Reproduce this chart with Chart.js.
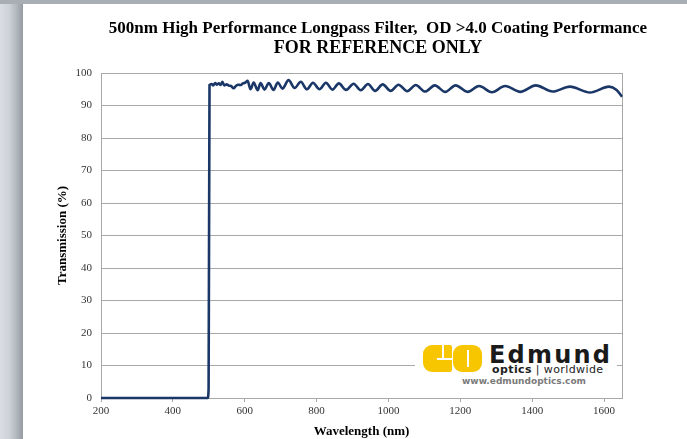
<!DOCTYPE html>
<html>
<head>
<meta charset="utf-8">
<script src="https://cdn.jsdelivr.net/npm/chart.js@4.4.1/dist/chart.umd.min.js"></script>
<style>
  html, body { margin: 0; padding: 0; }
  body { width: 687px; height: 439px; position: relative; overflow: hidden; background: #fff; }
  #sideBar { position: absolute; left: 0; top: 0; width: 23px; height: 439px;
    background: linear-gradient(to right, #dadee3 0, #cdd2d8 9px, #b4b9bf 16px, #969ba2 23px); }
  #topBar { position: absolute; left: 0; top: 0; width: 687px; height: 4px; background: #a9aeb4; }
  #chartBox { position: absolute; left: 0; top: 0; width: 687px; height: 439px; }
  .title { position: absolute; left: 78px; width: 600px; text-align: center; white-space: nowrap;
    font-family: "Liberation Serif", "Times New Roman", serif; font-weight: bold; color: #000; }
  #title1 { top: 18px; font-size: 17px; line-height: 20px; }
  #title2 { top: 37px; font-size: 18px; line-height: 21px; }
  #logo { position: absolute; left: 415px; top: 337px; width: 202px; height: 57px; background: #fff; }
  #logo div { position: absolute; }
  .blk { background: #f7c600; top: 8px; height: 27px; }
  #eBlk { left: 8px; width: 29px; border-radius: 9px 2px 2px 9px; }
  #oBlk { left: 38px; width: 29px; border-radius: 9px; }
  .slot { background: #fff; }
  #brand { left: 74px; top: 6px; font: bold 24px/24px "DejaVu Sans", sans-serif; color: #1a1a1a; letter-spacing: 2.2px; }
  #tag { left: 77px; top: 27px; font: 11px/11px "DejaVu Sans", sans-serif; color: #222; letter-spacing: 0.4px; white-space: nowrap; }
  #url { left: 47px; top: 40px; font: bold 9px/9px "DejaVu Sans", sans-serif; color: #7a7a7a; white-space: nowrap; }
</style>
</head>
<body>
<div id="sideBar"></div>
<div id="topBar"></div>
<div id="chartBox"><canvas id="filterChart"></canvas></div>
<div class="title" id="title1">500nm High Performance Longpass Filter,&nbsp; OD &gt;4.0 Coating Performance</div>
<div class="title" id="title2">FOR REFERENCE ONLY</div>
<div id="logo">
  <div class="blk" id="eBlk"></div>
  <div class="blk" id="oBlk"></div>
  <div class="slot" style="left:22px;top:21px;width:15px;height:1.5px"></div>
  <div class="slot" style="left:27px;top:8px;width:1.5px;height:13px"></div>
  <div class="slot" style="left:52px;top:13px;width:1.5px;height:17px"></div>
  <div id="brand">Edmund</div>
  <div id="tag"><b>optics</b> | worldwide</div>
  <div id="url">www.edmundoptics.com</div>
</div>
<script>
const wavelengthNm = [200, 300, 400, 497, 499.5, 502, 508, 512, 518, 522, 528, 533, 538, 543, 550,
  556, 562, 569, 576, 582, 588, 595, 601, 608, 616, 625, 636, 644, 655, 667, 680, 692, 705, 722,
  739, 756, 773, 790, 808, 826, 844, 862, 882, 903, 923, 943, 963, 984, 1006, 1028, 1052, 1076,
  1102, 1129, 1158, 1187, 1220, 1252, 1288, 1325, 1367, 1410, 1457, 1505, 1561, 1614, 1635, 1650];
const transmission = [0, 0, 0, 0, 3, 96.3, 96.6, 96.2, 96.9, 96.4, 96.8, 96.3, 97.3, 96.2, 96.5,
  96.1, 96.0, 95.3, 96.1, 96.4, 96.3, 96.8, 97.0, 97.6, 95.0, 97.1, 94.7, 96.9, 94.9, 96.9, 94.8, 97.1, 95.2, 97.8,
  95.4, 97.3, 95.0, 97.0, 95.0, 97.0, 94.9, 96.8, 94.8, 96.7, 94.7, 96.6, 94.5, 96.5, 94.5, 96.4, 94.4, 96.3,
  94.3, 96.2, 94.2, 96.2, 94.2, 96.0, 94.1, 96.0, 94.2, 96.2, 94.3, 95.8, 94.0, 95.8, 94.8, 92.7];

const xTickValues = [200, 400, 600, 800, 1000, 1200, 1400, 1600];
const xRange = [200, 1650];
const yRange = [0, 100];

const gridGray = '#a8a8a8';
const tickFont = { family: 'Liberation Serif', size: 11 };
const axisTitleFont = { family: 'Liberation Serif', size: 13, weight: 'bold' };

// right-hand frame line of the plot area
const plotFrame = {
  id: 'plotFrame',
  beforeDatasetsDraw(chart) {
    const { ctx, chartArea: a } = chart;
    ctx.save();
    ctx.strokeStyle = gridGray;
    ctx.lineWidth = 1;
    ctx.beginPath();
    ctx.moveTo(Math.round(a.right) + 0.5, a.top);
    ctx.lineTo(Math.round(a.right) + 0.5, a.bottom);
    ctx.stroke();
    ctx.restore();
  }
};

const ctx = document.getElementById('filterChart').getContext('2d');
new Chart(ctx, {
  type: 'line',
  data: {
    datasets: [{
      label: 'Transmission',
      data: wavelengthNm.map((w, i) => ({ x: w, y: transmission[i] })),
      borderColor: '#1b3768',
      borderWidth: 2.6,
      pointRadius: 0,
      cubicInterpolationMode: 'monotone',
      clip: false
    }]
  },
  options: {
    responsive: true,
    maintainAspectRatio: false,
    animation: false,
    layout: { padding: { left: 50, right: 65, top: 73, bottom: 0 } },
    plugins: { legend: { display: false }, tooltip: { enabled: false } },
    scales: {
      x: {
        type: 'linear',
        min: xRange[0],
        max: xRange[1],
        afterFit: s => { s.height = 41; },
        afterBuildTicks: s => { s.ticks = xTickValues.map(v => ({ value: v })); },
        grid: { drawOnChartArea: false, drawTicks: true, tickLength: 4, color: gridGray },
        border: { color: gridGray },
        ticks: { font: tickFont, color: '#333', padding: 3, maxRotation: 0, callback: v => String(v) },
        title: { display: true, text: 'Wavelength (nm)', font: axisTitleFont, color: '#000', padding: { top: 0, bottom: 0 } }
      },
      y: {
        min: yRange[0],
        max: yRange[1],
        afterFit: s => { s.width = 51; },
        ticks: { stepSize: 10, font: tickFont, color: '#333', padding: 9 },
        grid: { color: gridGray, drawTicks: false },
        border: { color: gridGray },
        title: { display: true, text: 'Transmission (%)', font: axisTitleFont, color: '#000', padding: { top: 5, bottom: 0 } }
      }
    }
  },
  plugins: [plotFrame]
});
</script>
</body>
</html>
